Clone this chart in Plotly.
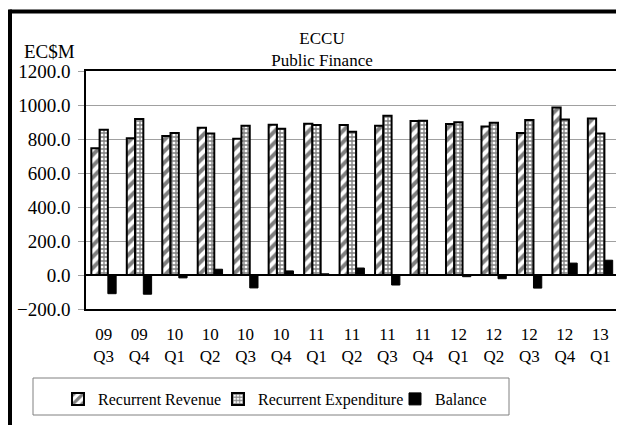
import plotly.graph_objects as go

# quarters on the x axis
years = ["09", "09", "10", "10", "10", "10", "11", "11", "11", "11", "12", "12", "12", "12", "13"]
quarters = ["Q3", "Q4", "Q1", "Q2", "Q3", "Q4", "Q1", "Q2", "Q3", "Q4", "Q1", "Q2", "Q3", "Q4", "Q1"]

# EC$M
revenue = [745, 805, 818, 866, 802, 884, 889, 883, 878, 906, 888, 873, 835, 985, 920]
expenditure = [855, 918, 835, 832, 878, 860, 882, 842, 937, 908, 898, 895, 912, 915, 833]
balance = [-110, -113, -17, 34, -76, 24, 7, 41, -59, -2, -10, -22, -77, 70, 87]

cats = [y + " " + q for y, q in zip(years, quarters)]
ticktext = [y + "<br>" + q for y, q in zip(years, quarters)]

FONT = "Liberation Serif"
# the page body has an 8px margin, so the figure is drawn 8px smaller
OFF = 8
W, H = 624 - OFF, 425 - OFF
L, R, T, B = 86 - OFF, 6, 71 - OFF, 116
pw, ph = W - L - R, H - T - B


def px(x):
    # screen x of the reference -> paper x
    return (x - OFF - L) / pw


def py(y):
    # screen y of the reference -> paper y
    return (H - B - (y - OFF)) / ph


fig = go.Figure()
fig.add_trace(go.Bar(
    x=cats, y=revenue, name="Recurrent Revenue", legend="legend",
    marker=dict(color="white", line=dict(color="black", width=2),
                pattern=dict(shape="/", fgcolor="black", bgcolor="white", size=8, solidity=0.5)),
))
fig.add_trace(go.Bar(
    x=cats, y=expenditure, name="Recurrent Expenditure", legend="legend2",
    marker=dict(color="white", line=dict(color="black", width=2),
                pattern=dict(shape="+", fgcolor="black", bgcolor="white", size=4, solidity=0.55)),
))
fig.add_trace(go.Bar(
    x=cats, y=balance, name="Balance", legend="legend3",
    marker=dict(color="black", line=dict(color="black", width=1)),
))

leg = dict(orientation="h", xanchor="left", y=py(382), yanchor="top", borderwidth=0,
           font=dict(family=FONT, size=16, color="black"), bgcolor="rgba(0,0,0,0)")

fig.update_layout(
    width=W, height=H,
    margin=dict(l=L, r=R, t=T, b=B, autoexpand=False),
    paper_bgcolor="white", plot_bgcolor="white",
    font=dict(family=FONT, color="black", size=16),
    barmode="group", bargap=0.3, bargroupgap=0,
    title=dict(text="ECCU<br>Public Finance", x=(322 - OFF) / W, xanchor="center",
               y=1 - 36 / H, yanchor="top", font=dict(family=FONT, size=17, color="black")),
    showlegend=True,
    legend=dict(leg, x=px(58)),
    legend2=dict(leg, x=px(218)),
    legend3=dict(leg, x=px(395)),
)
fig.update_xaxes(
    tickvals=cats, ticktext=ticktext, ticks="", showgrid=False,
    showline=True, linecolor="black", linewidth=1.5, mirror=True,
    tickfont=dict(family=FONT, size=17, color="black"), ticklabelstandoff=9,
)
fig.update_yaxes(
    range=[-200, 1200], dtick=200, tickformat=".1f",
    showgrid=True, gridcolor="#a0a0a0", gridwidth=1,
    zeroline=True, zerolinecolor="black", zerolinewidth=1.5,
    showline=True, linecolor="black", linewidth=1.5, mirror=True,
    ticks="outside", ticklen=6, tickcolor="#a0a0a0", ticklabelstandoff=4,
    tickfont=dict(family=FONT, size=19, color="black"),
)

fig.add_annotation(text="EC$M", xref="paper", yref="paper", x=px(49), y=py(51),
                   xanchor="center", yanchor="middle", showarrow=False,
                   font=dict(family=FONT, size=19, color="black"))

# legend frame
fig.add_shape(type="rect", xref="paper", yref="paper", x0=px(33), x1=px(509), y0=py(378), y1=py(415),
              line=dict(color="#808080", width=1))

# black frame along the top and left of the picture
fig.add_shape(type="line", xref="paper", yref="paper", x0=px(9.5), x1=px(640), y0=py(11.5), y1=py(11.5),
              line=dict(color="black", width=4))
fig.add_shape(type="line", xref="paper", yref="paper", x0=px(9.5), x1=px(9.5), y0=py(9.5), y1=py(440),
              line=dict(color="black", width=5))

fig.write_html("out.html")
